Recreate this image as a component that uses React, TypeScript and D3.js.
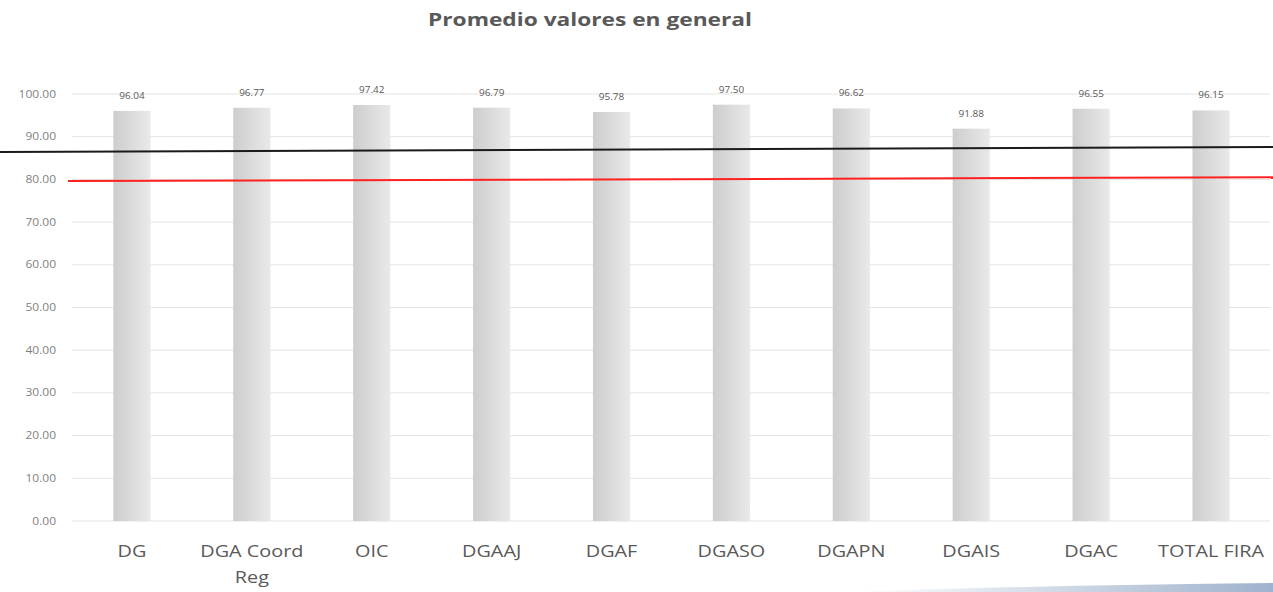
import React, { useEffect, useRef } from "react";
import * as d3 from "d3";

const categories = ["DG", "DGA Coord Reg", "OIC", "DGAAJ", "DGAF", "DGASO", "DGAPN", "DGAIS", "DGAC", "TOTAL FIRA"];
const valores = [96.04, 96.77, 97.42, 96.79, 95.78, 97.5, 96.62, 91.88, 96.55, 96.15];
const yTicks = [0, 10, 20, 30, 40, 50, 60, 70, 80, 90, 100];
// reference lines, value at left end and right end
const lineaNegra = [86.4, 87.6];
const lineaRoja = [79.6, 80.5];

const W = 1273, H = 592;
const FONT = "Open Sans, sans-serif";

const App = () => {
  const ref = useRef<SVGSVGElement>(null);

  useEffect(() => {
    const svg = d3.select(ref.current);
    svg.selectAll("*").remove();

    const margin = { top: 94, right: 2, bottom: 71, left: 72 };
    const x = d3.scaleBand()
      .domain(categories)
      .range([margin.left, W - margin.right])
      .paddingInner(0.69)
      .paddingOuter(0.345);
    const y = d3.scaleLinear().domain([0, 100]).range([H - margin.bottom, margin.top]);

    const defs = svg.append("defs");
    const grad = defs.append("linearGradient").attr("id", "barGrad").attr("x1", "0").attr("x2", "1");
    grad.append("stop").attr("offset", "0%").attr("stop-color", "#cdcdcd");
    grad.append("stop").attr("offset", "100%").attr("stop-color", "#e9e9e9");
    const swoosh = defs.append("linearGradient").attr("id", "swoosh").attr("x1", "0").attr("x2", "1");
    swoosh.append("stop").attr("offset", "0%").attr("stop-color", "#ffffff");
    swoosh.append("stop").attr("offset", "100%").attr("stop-color", "#9fb2cc");

    // text is a bit stretched sideways in the original
    const label = (g, tx, ty, str, size, sx, anchor = "middle") =>
      g.append("text")
        .attr("transform", `translate(${tx},${ty}) scale(${sx},1)`)
        .attr("text-anchor", anchor)
        .attr("font-family", FONT)
        .attr("font-size", size)
        .attr("fill", "#595959")
        .text(str);

    // title
    svg.append("text")
      .attr("x", 428).attr("y", 26)
      .attr("textLength", 324)
      .attr("lengthAdjust", "spacingAndGlyphs")
      .attr("font-family", FONT)
      .attr("font-weight", "bold")
      .attr("font-size", 17)
      .attr("fill", "#595959")
      .text("Promedio valores en general");

    // grid + y labels
    const yAxis = svg.append("g");
    yTicks.forEach(t => {
      yAxis.append("line")
        .attr("x1", margin.left).attr("x2", W - 3)
        .attr("y1", y(t)).attr("y2", y(t))
        .attr("stroke", "#e3e3e3").attr("stroke-width", 1);
      label(yAxis, 56, y(t) + 3.5, t.toFixed(2), 10, 1.2, "end").attr("fill", "#7f7f7f");
    });

    // bars
    svg.append("g").selectAll("rect")
      .data(valores)
      .join("rect")
      .attr("x", (d, i) => x(categories[i]))
      .attr("width", x.bandwidth())
      .attr("y", d => y(d))
      .attr("height", d => y(0) - y(d))
      .attr("fill", "url(#barGrad)");

    // data labels
    const dl = svg.append("g");
    valores.forEach((d, i) => {
      label(dl, x(categories[i]) + x.bandwidth() / 2, y(d) - 12, d.toFixed(2), 9.5, 1.05);
    });

    // reference lines
    const lx = d3.scaleLinear().domain([0, 1]);
    const line = d3.line<number>()
      .x((d, i) => lx(i))
      .y(d => y(d));
    lx.range([0, W]);
    svg.append("path")
      .datum(lineaNegra)
      .attr("fill", "none")
      .attr("stroke", "#1a1a1a")
      .attr("stroke-width", 2)
      .attr("d", line);
    lx.range([68, W]);
    svg.append("path")
      .datum(lineaRoja)
      .attr("fill", "none")
      .attr("stroke", "#ff2020")
      .attr("stroke-width", 2)
      .attr("d", line);

    // x labels
    const xl = svg.append("g");
    categories.forEach(c => {
      const cx = x(c) + x.bandwidth() / 2;
      const words = c === "DGA Coord Reg" ? ["DGA Coord", "Reg"] : [c];
      words.forEach((w, k) => {
        label(xl, cx, 557 + k * 26, w, 15.5, 1.28);
      });
    });

    // decorative swoosh at the bottom right
    svg.append("path")
      .attr("d", `M850,592 Q1050,585 1273,583 L1273,592 Z`)
      .attr("fill", "url(#swoosh)");
  }, []);

  return <svg ref={ref} width={W} height={H} style={{ position: "absolute", left: 0, top: 0, background: "#fff" }} />;
};

export default App;
